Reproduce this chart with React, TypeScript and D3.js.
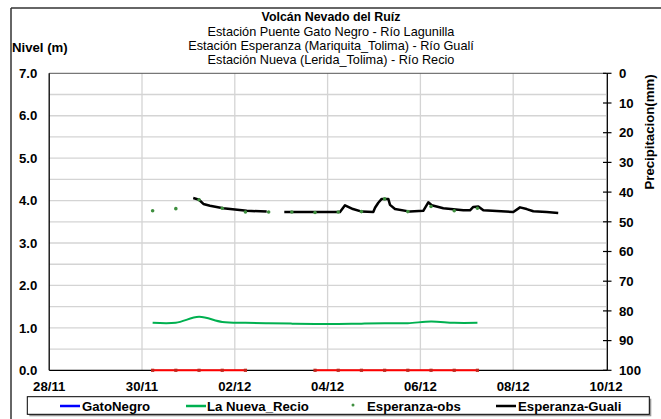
import React from "react";
import * as d3 from "d3";

const W = 661;
const H = 419;

// ---- data ----
const titleLines = [
  "Volcán Nevado del Ruíz",
  "Estación Puente Gato Negro - Río Lagunilla",
  "Estación Esperanza (Mariquita_Tolima) - Río Gualí",
  "Estación Nueva (Lerida_Tolima) - Río Recio",
];
const xTickLabels = ["2023-11-28 00:00", "2023-11-30 00:00", "2023-12-02 00:00", "2023-12-04 00:00", "2023-12-06 00:00", "2023-12-08 00:00", "2023-12-10 00:00"];
const yTicks = [0, 1, 2, 3, 4, 5, 6, 7];
const yRightTicks = [0, 10, 20, 30, 40, 50, 60, 70, 80, 90, 100];

const gualiSeg1Times = ["2023-12-01 02:30", "2023-12-01 05:30", "2023-12-01 07:45", "2023-12-01 11:10", "2023-12-01 18:00", "2023-12-02 06:10", "2023-12-02 16:30"];
const gualiSeg1Values = [4.06, 4.02, 3.92, 3.88, 3.82, 3.76, 3.74];
const gualiSeg2Times = [
  "2023-12-03 01:36", "2023-12-04 06:24", "2023-12-04 09:00", "2023-12-04 13:08", "2023-12-04 17:38", "2023-12-04 23:38",
  "2023-12-05 00:32", "2023-12-05 02:14", "2023-12-05 03:59", "2023-12-05 07:24", "2023-12-05 08:17", "2023-12-05 10:52",
  "2023-12-05 18:37", "2023-12-06 01:29", "2023-12-06 04:05", "2023-12-06 05:51", "2023-12-06 11:51", "2023-12-06 22:12",
  "2023-12-07 01:39", "2023-12-07 03:22", "2023-12-07 05:57", "2023-12-07 08:33", "2023-12-08 00:03", "2023-12-08 03:32",
  "2023-12-08 06:58", "2023-12-08 10:24", "2023-12-08 17:17", "2023-12-08 23:17",
];
const gualiSeg2Values = [
  3.73, 3.73, 3.89, 3.80, 3.74, 3.73,
  3.83, 3.95, 4.04, 4.04, 3.90, 3.80,
  3.74, 3.76, 3.96, 3.89, 3.82, 3.77,
  3.77, 3.85, 3.86, 3.77, 3.73, 3.84,
  3.80, 3.75, 3.73, 3.71,
];

const obsTimes = [
  "2023-11-30 05:30", "2023-11-30 17:30", "2023-12-01 05:30", "2023-12-01 17:30", "2023-12-02 05:30",
  "2023-12-02 17:30", "2023-12-03 05:30", "2023-12-03 17:30", "2023-12-04 05:30", "2023-12-04 17:30",
  "2023-12-05 05:30", "2023-12-05 17:30", "2023-12-06 05:30", "2023-12-06 17:30", "2023-12-07 05:30",
];
const obsValues = [3.76, 3.81, 4.02, 3.82, 3.73, 3.73, 3.73, 3.72, 3.73, 3.74, 4.04, 3.74, 3.86, 3.76, 3.82];
const recioValues = [1.12, 1.12, 1.26, 1.14, 1.12, 1.11, 1.10, 1.09, 1.09, 1.10, 1.11, 1.11, 1.15, 1.12, 1.12];

const redSeg1Times = ["2023-11-30 05:30", "2023-11-30 17:30", "2023-12-01 05:30", "2023-12-01 17:30", "2023-12-02 05:30"];
const redSeg2Times = ["2023-12-03 17:30", "2023-12-04 05:30", "2023-12-04 17:30", "2023-12-05 05:30", "2023-12-05 17:30", "2023-12-06 05:30", "2023-12-06 17:30", "2023-12-07 05:30"];
const redValue = 0;

const legendLabels = ["GatoNegro", "La Nueva_Recio", "Esperanza-obs", "Esperanza-Guali"];

// ---- layout ----
const parse = d3.timeParse("%Y-%m-%d %H:%M");
const plot = { left: 49.2, right: 606, top: 73.3, bottom: 370.3 };
const FONT = "'Liberation Sans', Arial, sans-serif";
const BOLD = 13.2;

type P = { t: Date; v: number };
const zip = (ts: string[], vs: number[]): P[] => ts.map((t, i) => ({ t: parse(t) as Date, v: vs[i] }));

export default function App() {
  const x = d3.scaleTime().domain([parse(xTickLabels[0]) as Date, parse(xTickLabels[xTickLabels.length - 1]) as Date]).range([plot.left, plot.right]);
  const y = d3.scaleLinear().domain([0, 7]).range([plot.bottom, plot.top]);
  const yR = d3.scaleLinear().domain([0, 100]).range([plot.top, plot.bottom]);
  const fmt = d3.timeFormat("%d/%m");

  const line = d3.line<P>().x((d) => x(d.t)).y((d) => y(d.v));
  const smooth = d3.line<P>().x((d) => x(d.t)).y((d) => y(d.v)).curve(d3.curveCatmullRom.alpha(0.5));

  const g1 = zip(gualiSeg1Times, gualiSeg1Values);
  const g2 = zip(gualiSeg2Times, gualiSeg2Values);
  const obs = zip(obsTimes, obsValues);
  const recio = zip(obsTimes, recioValues);
  const r1 = zip(redSeg1Times, redSeg1Times.map(() => redValue));
  const r2 = zip(redSeg2Times, redSeg2Times.map(() => redValue));

  const hGrid = d3.range(0.5, 7, 0.5);
  const vGridDates = xTickLabels.slice(1, -1).map((s) => parse(s) as Date);
  const xTickDates = xTickLabels.map((s) => parse(s) as Date);

  const legY = 406;
  return (
    <svg width={W} height={H} style={{ position: "absolute", left: 0, top: 0, background: "#fff" }} fontFamily={FONT}>
      <rect x={0} y={0} width={W} height={H} fill="#fff" />
      {/* outer chart border */}
      <line x1={11} y1={8} x2={W} y2={8} stroke="#333" strokeWidth={1.5} />
      <line x1={11} y1={8} x2={11} y2={H} stroke="#333" strokeWidth={1.5} />

      {/* titles */}
      <text x={331} y={21} textAnchor="middle" fontSize={12.4} fontWeight="bold">{titleLines[0]}</text>
      {titleLines.slice(1).map((t, i) => (
        <text key={t} x={331} y={36 + i * 14} textAnchor="middle" fontSize={12.7}>{t}</text>
      ))}
      <text x={12} y={52} fontSize={BOLD} fontWeight="bold">Nivel (m)</text>
      <text transform={`translate(654,132) rotate(-90)`} textAnchor="middle" fontSize={BOLD} fontWeight="bold">Precipitacion(mm)</text>

      {/* grid */}
      {hGrid.map((v) => (
        <line key={v} x1={plot.left} x2={plot.right} y1={y(v)} y2={y(v)} stroke="#d4d4d4" strokeWidth={1.3} />
      ))}
      {vGridDates.map((d, i) => (
        <line key={i} x1={x(d)} x2={x(d)} y1={plot.top} y2={plot.bottom} stroke="#d4d4d4" strokeWidth={1.3} />
      ))}
      <line x1={plot.left} x2={plot.right} y1={plot.top} y2={plot.top} stroke="#555" strokeWidth={1} />
      <line x1={plot.left} x2={plot.left} y1={plot.top} y2={plot.bottom} stroke="#000" strokeWidth={1.3} />
      <line x1={plot.left} x2={plot.right + 1} y1={plot.bottom} y2={plot.bottom} stroke="#000" strokeWidth={1.3} />
      <line x1={607.3} x2={607.3} y1={plot.top} y2={plot.bottom} stroke="#000" strokeWidth={1.3} />

      {/* left ticks */}
      {yTicks.map((v) => (
        <text key={v} x={37.3} y={y(v) + 4.7} textAnchor="end" fontSize={BOLD} fontWeight="bold">{v.toFixed(1)}</text>
      ))}
      {/* right ticks */}
      {yRightTicks.map((v) => (
        <g key={v}>
          <line x1={603} x2={611.5} y1={yR(v)} y2={yR(v)} stroke="#000" strokeWidth={1.2} />
          <text x={619} y={yR(v) + 4.7} fontSize={BOLD} fontWeight="bold">{v}</text>
        </g>
      ))}
      {/* x tick labels */}
      {xTickDates.map((d, i) => (
        <text key={i} x={x(d)} y={391} textAnchor="middle" fontSize={BOLD} fontWeight="bold">{fmt(d)}</text>
      ))}

      {/* series */}
      <path d={smooth(recio) || ""} fill="none" stroke="#00B050" strokeWidth={2} />
      <path d={line(g1) || ""} fill="none" stroke="#000" strokeWidth={2.5} strokeLinejoin="round" />
      <path d={line(g2) || ""} fill="none" stroke="#000" strokeWidth={2.5} strokeLinejoin="round" />
      {obs.map((d, i) => (
        <circle key={i} cx={x(d.t)} cy={y(d.v)} r={1.8} fill="#3f8f3f" />
      ))}
      {[r1, r2].map((seg, si) => (
        <g key={si}>
          <path d={line(seg) || ""} fill="none" stroke="#ff0000" strokeWidth={2} />
          {seg.map((d, i) => (
            <rect key={i} x={x(d.t) - 1.6} y={y(d.v) - 1.6} width={3.2} height={3.2} fill="#c0281e" />
          ))}
        </g>
      ))}

      {/* legend */}
      <rect x={29.3} y={398.7} width={622} height={17.6} fill="#999" />
      <rect x={27.3} y={396.7} width={622} height={17.6} fill="#fff" stroke="#000" strokeWidth={1} />
      <line x1={60} x2={80} y1={legY} y2={legY} stroke="#0000ff" strokeWidth={2.5} />
      <text x={82} y={legY + 4.7} fontSize={BOLD} fontWeight="bold">{legendLabels[0]}</text>
      <line x1={186} x2={206} y1={legY} y2={legY} stroke="#00B050" strokeWidth={2.5} />
      <text x={207} y={legY + 4.7} fontSize={BOLD} fontWeight="bold">{legendLabels[1]}</text>
      <circle cx={353} cy={legY - 1} r={1.5} fill="#3f8f3f" />
      <text x={367} y={legY + 4.7} fontSize={BOLD} fontWeight="bold">{legendLabels[2]}</text>
      <line x1={496} x2={516} y1={legY} y2={legY} stroke="#000" strokeWidth={2.5} />
      <text x={518} y={legY + 4.7} fontSize={BOLD} fontWeight="bold">{legendLabels[3]}</text>
    </svg>
  );
}
